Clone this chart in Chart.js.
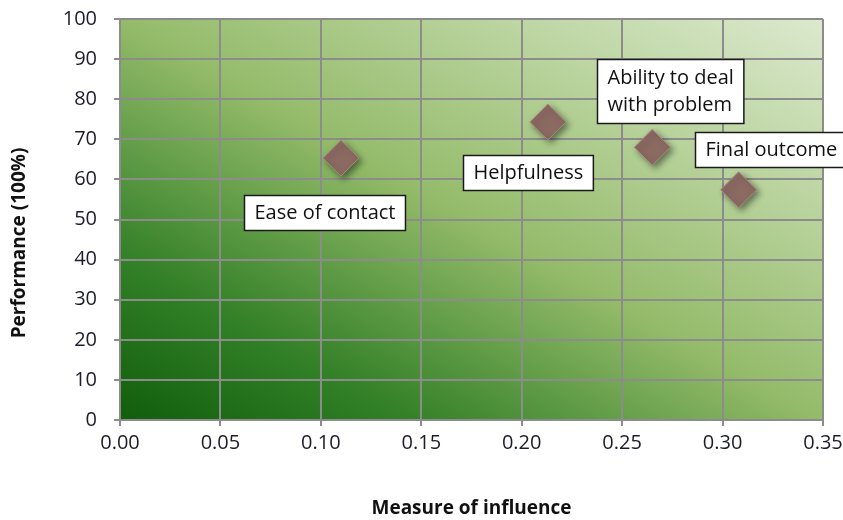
<!DOCTYPE html>
<html>
<head>
<meta charset="utf-8">
<script src="https://cdn.jsdelivr.net/npm/chart.js@4"></script>
<style>
  html, body { margin: 0; padding: 0; background: #fff; }
  #wrap { width: 843px; height: 520px; }
</style>
</head>
<body>
<div id="wrap"><canvas id="chart" width="843" height="520"></canvas></div>
<script>
// Chart data
const factorNames = ['Ease of contact', 'Helpfulness', 'Ability to deal|with problem', 'Final outcome'];
const influence = [0.110, 0.213, 0.265, 0.308];
const performance = [65.3, 74.3, 68.0, 57.4];
const xTicks = [0, 0.05, 0.10, 0.15, 0.20, 0.25, 0.30, 0.35];
const yTicks = [0, 10, 20, 30, 40, 50, 60, 70, 80, 90, 100];
const yTitle = 'Performance (100%)';

// label box offsets from the point (pixels): left edge, top edge
const labelOffsets = [[-97, 37], [-85, 33], [-55, -88], [-44, -58]];

const FONT = "'Open Sans', sans-serif";

// gradient background of the plot area (dark bottom-left, light top-right)
const bgPlugin = {
    id: 'plotBg',
    beforeDraw(chart) {
        const { ctx, chartArea: a } = chart;
        const w = a.right - a.left, h = a.bottom - a.top;
        const k = 2 * w * h / (w * w + h * h);
        const g = ctx.createLinearGradient(a.left, a.bottom, a.left + h * k, a.bottom - w * k);
        g.addColorStop(0, '#105e0c');
        g.addColorStop(0.2, '#317f26');
        g.addColorStop(0.5, '#94bb6a');
        g.addColorStop(0.75, '#b9d39d');
        g.addColorStop(1, '#dce9ce');
        ctx.save();
        ctx.fillStyle = g;
        ctx.fillRect(a.left, a.top, w, h);
        ctx.restore();
    }
};

// drop shadow for the diamonds
const shadowPlugin = {
    id: 'markerShadow',
    beforeDatasetsDraw(chart) {
        const ctx = chart.ctx;
        ctx.save();
        ctx.shadowColor = 'rgba(0,0,0,0.45)';
        ctx.shadowBlur = 6;
        ctx.shadowOffsetX = 3;
        ctx.shadowOffsetY = 3;
    },
    afterDatasetsDraw(chart) {
        chart.ctx.restore();
    }
};

// white boxed labels next to each point, plus the y axis title (sits below centre like Excel)
const labelPlugin = {
    id: 'boxLabels',
    afterDatasetsDraw(chart) {
        const { ctx, scales } = chart;
        ctx.save();
        ctx.font = '20px ' + FONT;
        ctx.textBaseline = 'middle';
        factorNames.forEach((name, i) => {
            const px = scales.x.getPixelForValue(influence[i]);
            const py = scales.y.getPixelForValue(performance[i]);
            const lines = name.split('|');
            const w = Math.max(...lines.map(l => ctx.measureText(l).width)) + 20;
            const lh = 27;
            const h = lines.length * lh + (lines.length > 1 ? 10 : 8);
            const bx = Math.round(px + labelOffsets[i][0]) + 0.5;
            const by = Math.round(py + labelOffsets[i][1]) + 0.5;
            ctx.fillStyle = '#ffffff';
            ctx.fillRect(bx, by, w, h);
            ctx.strokeStyle = '#1a1a1a';
            ctx.lineWidth = 1.5;
            ctx.strokeRect(bx, by, w, h);
            ctx.fillStyle = '#111';
            lines.forEach((l, k) => ctx.fillText(l, bx + 10, by + (h - lines.length * lh) / 2 + lh / 2 + k * lh));
        });

        ctx.translate(20, 243);
        ctx.rotate(-Math.PI / 2);
        ctx.textAlign = 'center';
        ctx.font = 'bold 19px ' + FONT;
        ctx.fillStyle = '#111';
        ctx.fillText(yTitle, 0, 0);
        ctx.restore();
    }
};

const points = influence.map((x, i) => ({ x: x, y: performance[i] }));

new Chart(document.getElementById('chart'), {
    type: 'scatter',
    data: {
        datasets: [{
            data: points,
            pointStyle: 'rectRot',
            pointRadius: 18,
            pointHoverRadius: 18,
            backgroundColor: '#8b6a62',
            borderColor: '#a88a80',
            borderWidth: 1
        }]
    },
    options: {
        responsive: false,
        animation: false,
        layout: { padding: { top: 19, right: 20, left: 0, bottom: 0 } },
        plugins: {
            legend: { display: false },
            tooltip: { enabled: false }
        },
        scales: {
            x: {
                type: 'linear',
                min: 0,
                max: 0.35,
                afterBuildTicks: s => { s.ticks = xTicks.map(v => ({ value: v })); },
                afterFit: s => { s.height = 100; s.paddingLeft = 0; s.paddingRight = 0; },
                ticks: {
                    color: '#1c1c2c',
                    font: { family: FONT, size: 20 },
                    padding: 5,
                    callback: v => v.toFixed(2)
                },
                grid: { color: '#8c8c8c', lineWidth: 2, tickLength: 6 },
                border: { color: '#8c8c8c', width: 2 },
                title: {
                    display: true,
                    text: 'Measure of influence',
                    color: '#111',
                    font: { family: FONT, size: 19, weight: 'bold' },
                    padding: { top: 32, bottom: 0 }
                }
            },
            y: {
                type: 'linear',
                min: 0,
                max: 100,
                afterBuildTicks: s => { s.ticks = yTicks.map(v => ({ value: v })); },
                afterFit: s => { s.width = 120; s.paddingTop = 0; s.paddingBottom = 0; },
                ticks: {
                    color: '#1c1c2c',
                    font: { family: FONT, size: 20 },
                    padding: 17
                },
                grid: { color: '#8c8c8c', lineWidth: 2, tickLength: 6 },
                border: { color: '#8c8c8c', width: 2 }
            }
        }
    },
    plugins: [bgPlugin, shadowPlugin, labelPlugin]
});
</script>
</body>
</html>
